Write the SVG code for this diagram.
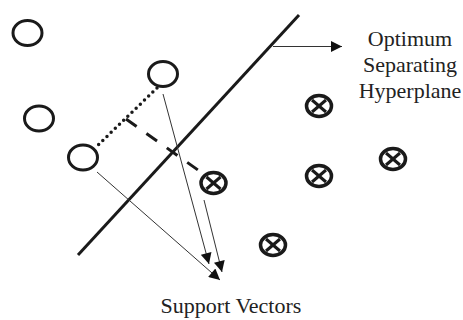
<svg xmlns="http://www.w3.org/2000/svg" width="463" height="320" viewBox="0 0 463 320">
<defs>
<style>
.open{fill:none;stroke:#1a1a1a;stroke-width:3}
.thin{stroke:#333;stroke-width:1;fill:none}
.lbl{font-family:"Liberation Serif","Times New Roman",serif;font-size:22px;fill:#222;text-anchor:middle}
</style>
<marker id="ah" viewBox="0 0 10 10" refX="10" refY="5" markerWidth="13" markerHeight="11" markerUnits="userSpaceOnUse" orient="auto">
<path d="M0,0 L10,5 L0,10 Z" fill="#111"/>
</marker>
<g id="x" fill="none" stroke="#1a1a1a">
<ellipse cx="0" cy="0" rx="12.5" ry="10.5" stroke-width="3.5"/>
<line x1="-7" y1="-6" x2="7" y2="6" stroke-width="3"/>
<line x1="-7" y1="6" x2="7" y2="-6" stroke-width="3"/>
</g>
</defs>
<rect width="463" height="320" fill="#fff"/>

<g id="connectors">
<line id="hyperplane" x1="78" y1="255" x2="299" y2="15" stroke="#1a1a1a" stroke-width="3"/>
<line x1="157" y1="88" x2="96" y2="147" stroke="#1a1a1a" stroke-width="3.5" stroke-linecap="round" stroke-dasharray="0 5.8"/>
<line x1="126" y1="119" x2="198" y2="170" stroke="#1a1a1a" stroke-width="3" stroke-dasharray="13 12"/>
<line class="thin" x1="273" y1="46.5" x2="342" y2="46.5" stroke="#555" stroke-width="1.3" marker-end="url(#ah)"/>
<line class="thin" x1="163" y1="94" x2="209" y2="264" marker-end="url(#ah)"/>
<line class="thin" x1="204" y1="200" x2="222" y2="272" marker-end="url(#ah)"/>
<line class="thin" x1="97" y1="172" x2="220" y2="280" stroke="#666" marker-end="url(#ah)"/>
</g>

<g id="c1"><ellipse class="open" cx="27.5" cy="33" rx="14.5" ry="12.5"/></g>
<g id="c2"><ellipse class="open" cx="39" cy="118.5" rx="14.5" ry="12.5"/></g>
<g id="c3"><ellipse class="open" cx="163" cy="74" rx="14.5" ry="12.5"/></g>
<g id="c4"><ellipse class="open" cx="83" cy="157.5" rx="14.5" ry="12.5"/></g>

<g id="x1"><use href="#x" x="213.5" y="183"/></g>
<g id="x2"><use href="#x" x="319" y="106"/></g>
<g id="x3"><use href="#x" x="319" y="176"/></g>
<g id="x4"><use href="#x" x="393" y="159"/></g>
<g id="x5"><use href="#x" x="273" y="245"/></g>

<g id="label-hyperplane">
<text class="lbl" x="410" y="46">Optimum</text>
<text class="lbl" x="410" y="72">Separating</text>
<text class="lbl" x="410" y="98">Hyperplane</text>
</g>
<g id="label-sv">
<text class="lbl" x="231" y="313">Support Vectors</text>
</g>
</svg>
